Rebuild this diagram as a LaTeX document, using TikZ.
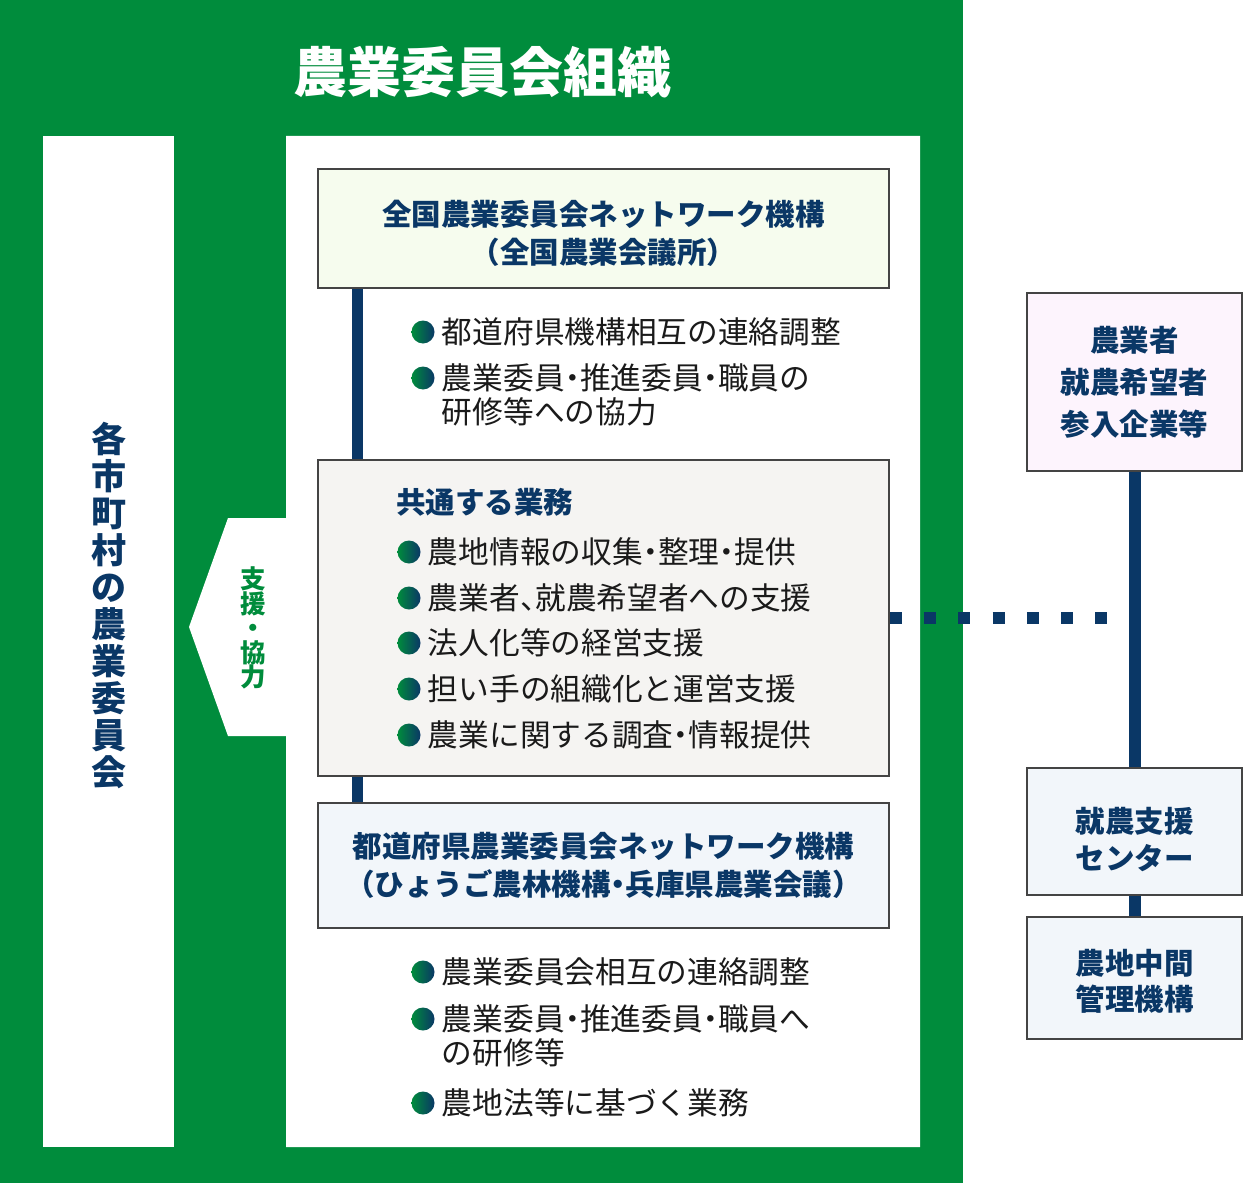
\documentclass[tikz,border=0pt]{standalone}
\usepackage{fontspec}
\usepackage{xcolor}
\usepackage{tikz}
\usetikzlibrary{positioning}
\setmainfont{Noto Sans CJK JP}
\definecolor{orggreen}{HTML}{008C3C}
\definecolor{orgnavy}{HTML}{0A3766}
\definecolor{boxborder}{HTML}{444444}
\definecolor{natbg}{HTML}{F6FCEE}
\definecolor{commonbg}{HTML}{F5F4F2}
\definecolor{prefbg}{HTML}{F2F6FA}
\definecolor{farmbg}{HTML}{FDF4FD}
\definecolor{bodytext}{HTML}{1A1A1A}
\newcommand{\nakaten}{\hspace{-.25em}・\hspace{-.25em}}
\newcommand{\touten}{、\hspace{-.5em}}

\begin{document}
\begin{tikzpicture}[x=1pt, y=-1pt,
    orgbox/.style={rectangle, draw=boxborder, line width=2pt, anchor=north west, align=center,
        inner sep=0pt, text=orgnavy, font=\bfseries\fontsize{29.5}{38}\selectfont},
    bulletdot/.style={circle, minimum size=23pt, inner sep=0pt, left color=orggreen, right color=orgnavy},
    itemtext/.style={inner sep=0pt, text=bodytext, font=\fontsize{30.7}{34}\selectfont,
        text height=27pt, text depth=3.7pt, anchor=west},
    link/.style={draw=orgnavy, line width=12pt}]

    \useasboundingbox (0,0) rectangle (1244,1185);

    % Green frame
    \node[rectangle, fill=orggreen, minimum width=963pt, minimum height=1183pt, inner sep=0pt, anchor=north west] (frame) at (0,0) {};
    \node[text=white, font=\bfseries\fontsize{54}{60}\selectfont] (title) at (482,72) {農業委員会組織};

    % Municipal committees
    \node[rectangle, fill=white, minimum width=131pt, minimum height=1011pt, inner sep=0pt, anchor=north west] (cities) at (43,136) {};
    \node[text=orgnavy, align=center, inner sep=0pt, font=\bfseries\fontsize{35}{37}\selectfont] (citiestext) at (108.5,605)
        {各\\市\\町\\村\\の\\農\\業\\委\\員\\会};

    % Panel with support arrow
    \fill[white] (286,136) -- (920,136) -- (920,1147) -- (286,1147) -- (286,736) -- (228,736) -- (189,627) -- (228,518) -- (286,518) -- cycle;
    \node[text=orggreen, align=center, inner sep=0pt, font=\bfseries\fontsize{25.5}{24.5}\selectfont] (support) at (253,628)
        {支\\援\\・\\協\\力};

    % Network boxes
    \node[orgbox, fill=natbg, minimum width=571pt, minimum height=119pt] (zenkoku) at (317,168)
        {\rule{0pt}{36pt}全国農業委員会ネットワーク機構\\（全国農業会議所）};
    \node[orgbox, fill=prefbg, minimum width=571pt, minimum height=125pt] (todofuken) at (317,802)
        {都道府県農業委員会ネットワーク機構\\（ひょうご農林機構\nakaten 兵庫県農業会議）};
    \draw[link, line width=11pt] ([xshift=40pt]zenkoku.south west) -- ([xshift=40pt]todofuken.north west);
    \node[orgbox, fill=commonbg, minimum width=571pt, minimum height=316pt] (kyotsu) at (317,459) {};
    \node[text=orgnavy, inner sep=0pt, anchor=west, font=\bfseries\fontsize{29.5}{36}\selectfont] (kyotsuhead) at (396,502) {共通する業務};

    % National tasks
    \node[bulletdot] (dota) at (423,332) {};
    \node[itemtext, right=7pt of dota] (itema) {都道府県機構相互の連絡調整};
    \node[bulletdot] (dotb) at (423,378) {};
    \node[itemtext, right=7pt of dotb] (itemb) {農業委員\nakaten 推進委員\nakaten 職員の};
    \node[itemtext, anchor=north west] (itemb2) at ([yshift=-3pt]itemb.south west) {研修等への協力};

    % Common tasks
    \node[bulletdot] (dotc) at (409,552) {};
    \node[itemtext, right=7pt of dotc] (itemc) {農地情報の収集\nakaten 整理\nakaten 提供};
    \node[bulletdot] (dotd) at (409,598) {};
    \node[itemtext, right=7pt of dotd] (itemd) {農業者\touten 就農希望者への支援};
    \node[bulletdot] (dote) at (409,643) {};
    \node[itemtext, right=7pt of dote] (iteme) {法人化等の経営支援};
    \node[bulletdot] (dotf) at (409,689) {};
    \node[itemtext, right=7pt of dotf] (itemf) {担い手の組織化と運営支援};
    \node[bulletdot] (dotg) at (409,735) {};
    \node[itemtext, right=7pt of dotg] (itemg) {農業に関する調査\nakaten 情報提供};

    % Prefectural tasks
    \node[bulletdot] (doth) at (423,972) {};
    \node[itemtext, right=7pt of doth] (itemh) {農業委員会相互の連絡調整};
    \node[bulletdot] (doti) at (423,1019) {};
    \node[itemtext, right=7pt of doti] (itemi) {農業委員\nakaten 推進委員\nakaten 職員へ};
    \node[itemtext, anchor=north west] (itemi2) at ([yshift=-3pt]itemi.south west) {の研修等};
    \node[bulletdot] (dotj) at (423,1103) {};
    \node[itemtext, right=7pt of dotj] (itemj) {農地法等に基づく業務};

    % Outside bodies
    \node[orgbox, fill=farmbg, minimum width=215pt, minimum height=178pt, font=\bfseries\fontsize{29.5}{42}\selectfont] (nogyosha) at (1026,292)
        {農業者\\就農希望者\\参入企業等};
    \node[orgbox, fill=prefbg, minimum width=215pt, minimum height=127pt, font=\bfseries\fontsize{29.5}{37}\selectfont] (shuno) at (1026,767)
        {\rule{0pt}{42pt}就農支援\\センター};
    \node[orgbox, fill=prefbg, minimum width=215pt, minimum height=122pt, font=\bfseries\fontsize{29.5}{36}\selectfont] (chukan) at (1026,916)
        {\rule{0pt}{31pt}農地中間\\管理機構};
    \draw[link] (nogyosha.south) -- (shuno.north);
    \draw[link] (shuno.south) -- (chukan.north);
    \draw[link, dash pattern=on 12pt off 22.2pt] (kyotsu.east) -- (kyotsu.east -| nogyosha.south);

\end{tikzpicture}
\end{document}
